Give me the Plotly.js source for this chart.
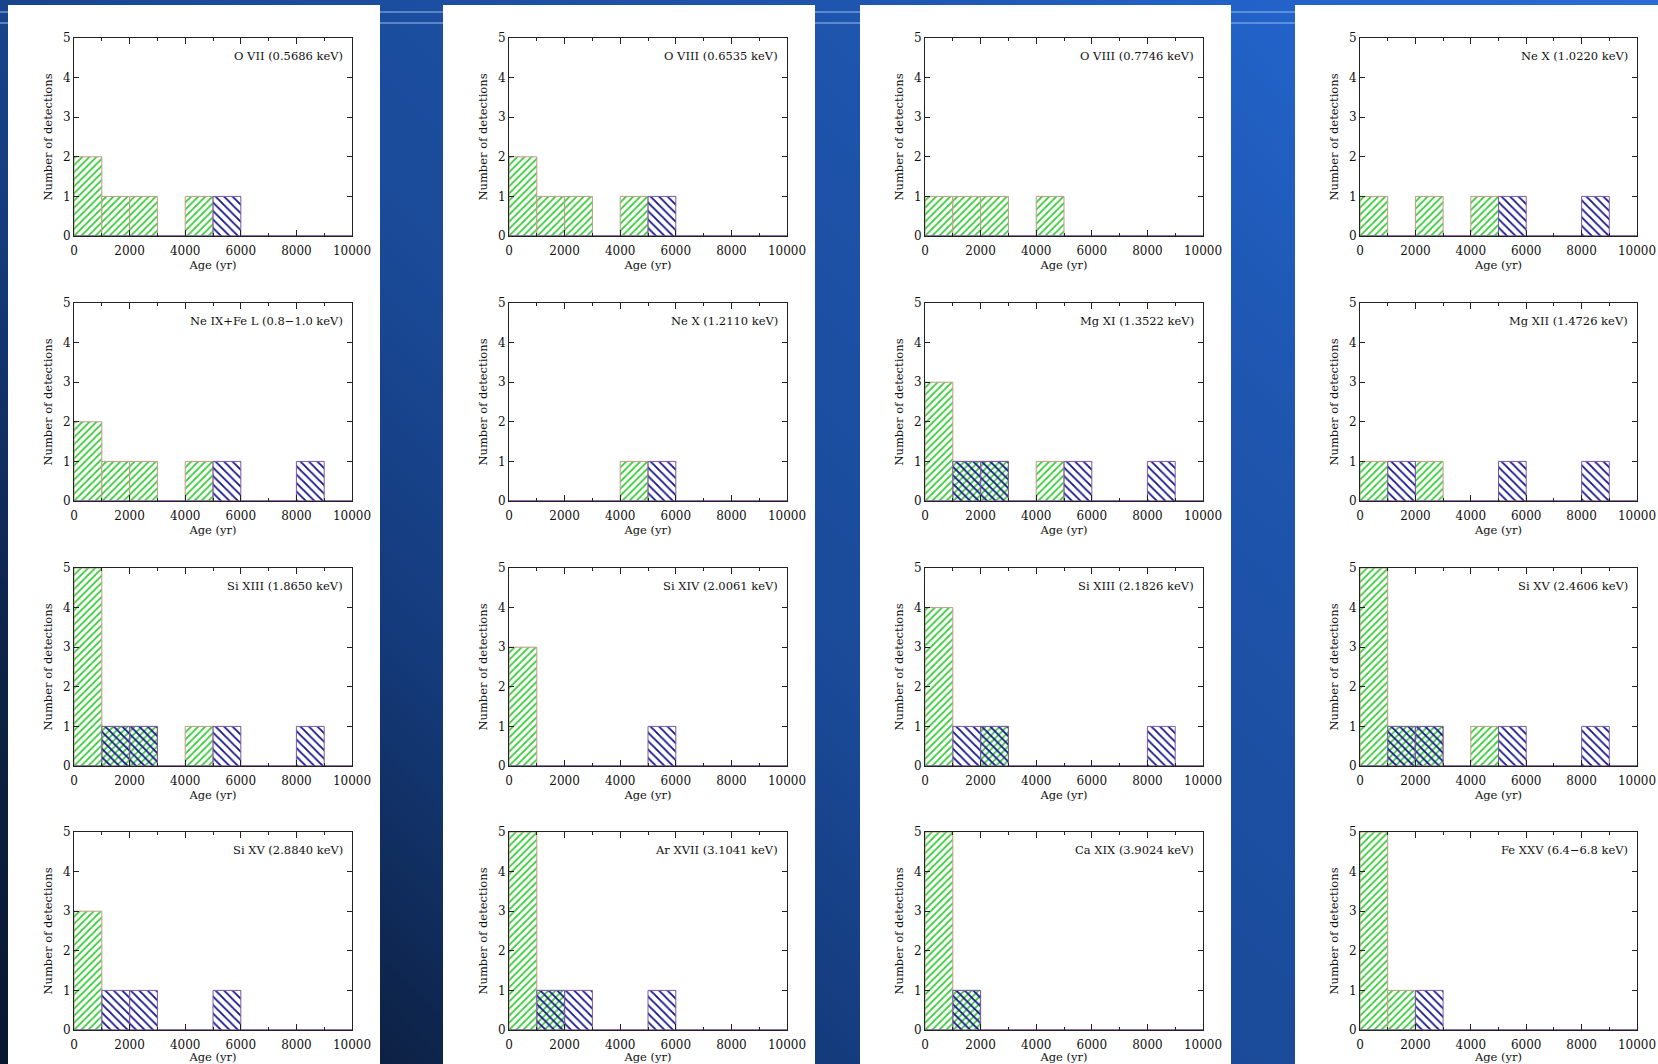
<!DOCTYPE html>
<html>
<head>
<meta charset="utf-8">
<script src="https://cdn.plot.ly/plotly-3.0.1.min.js"></script>
<style>
  html, body { margin: 0; padding: 0; width: 1658px; height: 1064px; overflow: hidden; }
  body {
    background: linear-gradient(45deg, #081730 0%, #0d2246 15%, #143a7a 30%, #1a4a98 45%, #1e55ae 70%, #2262c8 85%, #2a6cd4 100%);
  }
  #chart { width: 1658px; height: 1064px; }
</style>
</head>
<body>
<div id="chart"></div>
<script>
// ---------- DATA ----------
const ageBinStarts = [0, 1000, 2000, 3000, 4000, 5000, 6000, 7000, 8000, 9000];
const binWidth = 1000;
const xTickValues = [0, 2000, 4000, 6000, 8000, 10000];
const yTickValues = [0, 1, 2, 3, 4, 5];

const panelLabels = [
  "O VII (0.5686 keV)", "O VIII (0.6535 keV)", "O VIII (0.7746 keV)", "Ne X (1.0220 keV)",
  "Ne IX+Fe L (0.8\u22121.0 keV)", "Ne X (1.2110 keV)", "Mg XI (1.3522 keV)", "Mg XII (1.4726 keV)",
  "Si XIII (1.8650 keV)", "Si XIV (2.0061 keV)", "Si XIII (2.1826 keV)", "Si XV (2.4606 keV)",
  "Si XV (2.8840 keV)", "Ar XVII (3.1041 keV)", "Ca XIX (3.9024 keV)", "Fe XXV (6.4\u22126.8 keV)"
];

// green (hatched "/") counts per panel
const greenOVII_05686  = [2,1,1,0,1,0,0,0,0,0];
const greenOVIII_06535 = [2,1,1,0,1,0,0,0,0,0];
const greenOVIII_07746 = [1,1,1,0,1,0,0,0,0,0];
const greenNeX_10220   = [1,0,1,0,1,0,0,0,0,0];
const greenNeIXFeL     = [2,1,1,0,1,0,0,0,0,0];
const greenNeX_12110   = [0,0,0,0,1,0,0,0,0,0];
const greenMgXI_13522  = [3,1,1,0,1,0,0,0,0,0];
const greenMgXII_14726 = [1,0,1,0,0,0,0,0,0,0];
const greenSiXIII_18650 = [5,1,1,0,1,0,0,0,0,0];
const greenSiXIV_20061 = [3,0,0,0,0,0,0,0,0,0];
const greenSiXIII_21826 = [4,0,1,0,0,0,0,0,0,0];
const greenSiXV_24606  = [5,1,1,0,1,0,0,0,0,0];
const greenSiXV_28840  = [3,0,0,0,0,0,0,0,0,0];
const greenArXVII_31041 = [5,1,0,0,0,0,0,0,0,0];
const greenCaXIX_39024 = [5,1,0,0,0,0,0,0,0,0];
const greenFeXXV       = [5,1,0,0,0,0,0,0,0,0];

// blue (hatched "\") counts per panel
const blueOVII_05686  = [0,0,0,0,0,1,0,0,0,0];
const blueOVIII_06535 = [0,0,0,0,0,1,0,0,0,0];
const blueOVIII_07746 = [0,0,0,0,0,0,0,0,0,0];
const blueNeX_10220   = [0,0,0,0,0,1,0,0,1,0];
const blueNeIXFeL     = [0,0,0,0,0,1,0,0,1,0];
const blueNeX_12110   = [0,0,0,0,0,1,0,0,0,0];
const blueMgXI_13522  = [0,1,1,0,0,1,0,0,1,0];
const blueMgXII_14726 = [0,1,0,0,0,1,0,0,1,0];
const blueSiXIII_18650 = [0,1,1,0,0,1,0,0,1,0];
const blueSiXIV_20061 = [0,0,0,0,0,1,0,0,0,0];
const blueSiXIII_21826 = [0,1,1,0,0,0,0,0,1,0];
const blueSiXV_24606  = [0,1,1,0,0,1,0,0,1,0];
const blueSiXV_28840  = [0,1,1,0,0,1,0,0,0,0];
const blueArXVII_31041 = [0,1,1,0,0,1,0,0,0,0];
const blueCaXIX_39024 = [0,1,0,0,0,0,0,0,0,0];
const blueFeXXV       = [0,0,1,0,0,0,0,0,0,0];

const greenSeries = [greenOVII_05686, greenOVIII_06535, greenOVIII_07746, greenNeX_10220,
  greenNeIXFeL, greenNeX_12110, greenMgXI_13522, greenMgXII_14726,
  greenSiXIII_18650, greenSiXIV_20061, greenSiXIII_21826, greenSiXV_24606,
  greenSiXV_28840, greenArXVII_31041, greenCaXIX_39024, greenFeXXV];
const blueSeries = [blueOVII_05686, blueOVIII_06535, blueOVIII_07746, blueNeX_10220,
  blueNeIXFeL, blueNeX_12110, blueMgXI_13522, blueMgXII_14726,
  blueSiXIII_18650, blueSiXIV_20061, blueSiXIII_21826, blueSiXV_24606,
  blueSiXV_28840, blueArXVII_31041, blueCaXIX_39024, blueFeXXV];

// ---------- LAYOUT GEOMETRY (pixels) ----------
const W = 1658, H = 1064;
const colX = [[74, 352], [509, 787], [925, 1203], [1360, 1637]];
const rowY = [[38, 236], [303, 501], [568, 766], [832, 1030]];
const panelX = [[8, 380], [443, 815], [860, 1231], [1295, 1658]];

const FONT = "DejaVu Serif";
const textFont = { family: FONT, size: 11.5, color: "#111" };
const tickFont = { family: FONT, size: 12, color: "#111" };

const traces = [];
const layout = {
  width: W, height: H,
  margin: { l: 0, r: 0, t: 0, b: 0 },
  paper_bgcolor: "rgba(0,0,0,0)",
  plot_bgcolor: "rgba(0,0,0,0)",
  barmode: "overlay",
  showlegend: false,
  font: textFont,
  annotations: [],
  shapes: []
};

// decorative stripes and white panels
[12, 23].forEach(function (py) {
  layout.shapes.push({
    type: "line", xref: "paper", yref: "paper", layer: "below",
    x0: 0, x1: 1, y0: 1 - py / H, y1: 1 - py / H,
    line: { color: "rgba(140,180,235,0.55)", width: 2 }
  });
});
panelX.forEach(function (p) {
  layout.shapes.push({
    type: "rect", xref: "paper", yref: "paper", layer: "below",
    x0: p[0] / W, x1: p[1] / W, y0: 0, y1: 1 - 5 / H,
    fillcolor: "white", line: { width: 0 }
  });
});

for (let i = 0; i < 16; i++) {
  const r = Math.floor(i / 4), c = i % 4;
  const n = i + 1;
  const xa = n === 1 ? "x" : "x" + n;
  const ya = n === 1 ? "y" : "y" + n;
  const xKey = n === 1 ? "xaxis" : "xaxis" + n;
  const yKey = n === 1 ? "yaxis" : "yaxis" + n;

  layout[xKey] = {
    domain: [colX[c][0] / W, colX[c][1] / W],
    anchor: ya,
    range: [0, 10000],
    tickvals: xTickValues,
    tickformat: "d",
    ticks: "inside", ticklen: 6, tickwidth: 1, tickcolor: "#222",
    ticklabelstandoff: 4,
    minor: { dtick: 1000, tick0: 0, ticks: "inside", ticklen: 3, tickcolor: "#222", showgrid: false },
    showline: true, linecolor: "#222", linewidth: 1, mirror: "ticks",
    showgrid: false, zeroline: false, fixedrange: true,
    tickfont: tickFont,
    title: { text: "Age (yr)", font: textFont, standoff: 1 }
  };
  layout[yKey] = {
    domain: [1 - rowY[r][1] / H, 1 - rowY[r][0] / H],
    anchor: xa,
    range: [0, 5],
    tickvals: yTickValues,
    ticks: "inside", ticklen: 5, tickwidth: 1, tickcolor: "#222",
    showline: true, linecolor: "#222", linewidth: 1, mirror: "ticks",
    showgrid: false, zeroline: false, fixedrange: true,
    tickfont: tickFont,
    title: { text: "Number of detections", font: textFont, standoff: 7 }
  };

  traces.push({
    type: "bar", xaxis: xa, yaxis: ya,
    x: ageBinStarts, y: greenSeries[i],
    width: binWidth, offset: 0,
    marker: {
      color: "white",
      line: { color: "#c09a86", width: 1 },
      pattern: { shape: "/", fgcolor: "#3ccc3c", bgcolor: "white", size: 5, solidity: 0.35, fillmode: "replace" }
    },
    hoverinfo: "skip"
  });
  traces.push({
    type: "bar", xaxis: xa, yaxis: ya,
    x: ageBinStarts, y: blueSeries[i],
    width: binWidth, offset: 0,
    marker: {
      color: "rgba(0,0,0,0)",
      line: { color: "#7a5aa6", width: 1 },
      pattern: { shape: "\\", fgcolor: "#14148a", bgcolor: "rgba(0,0,0,0)", size: 6, solidity: 0.3, fillmode: "replace" }
    },
    hoverinfo: "skip"
  });

  layout.annotations.push({
    xref: xa + " domain", yref: ya + " domain",
    x: 1, y: 1, xanchor: "right", yanchor: "top",
    xshift: -7, yshift: -9,
    text: panelLabels[i], showarrow: false, font: textFont
  });
}

Plotly.newPlot("chart", traces, layout, { staticPlot: true, displayModeBar: false });
</script>
</body>
</html>
